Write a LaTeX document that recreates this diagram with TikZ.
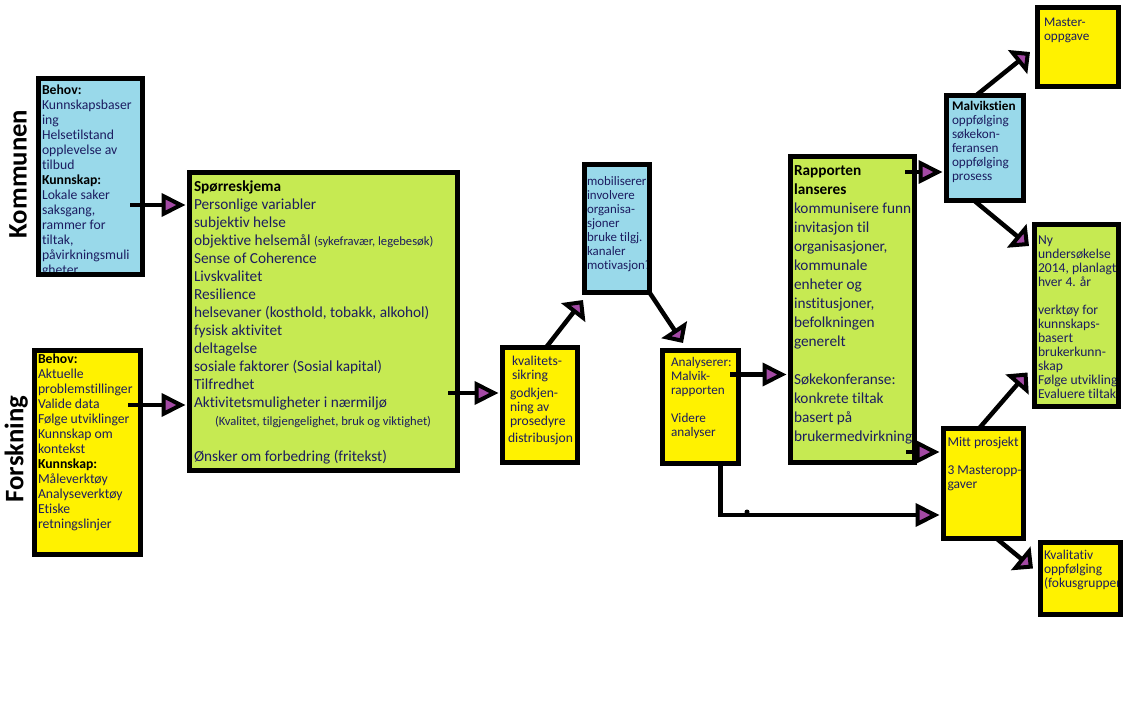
\documentclass[tikz,border=0pt]{standalone}
\usepackage{fontspec}
\setmainfont{Carlito}[Ligatures={NoCommon}]
\usetikzlibrary{arrows.meta}
\definecolor{kblue}{RGB}{153,217,234}
\definecolor{yel}{RGB}{255,242,0}
\definecolor{grn}{RGB}{198,234,82}
\definecolor{purp}{RGB}{163,73,164}
\definecolor{txtcol}{RGB}{28,28,96}
\newcommand{\bt}[1]{{\bfseries\color{black}#1}}
\newcommand{\tx}[3]{\parbox[t]{300pt}{\raggedright\fontsize{#1}{#2}\selectfont\leavevmode #3}}
\begin{document}
\begin{tikzpicture}[x=1pt,y=-1pt,
  bx/.style={draw=black, line width=5pt, rectangle, inner sep=0pt, outer sep=0pt},
  txt/.style={anchor=base west, inner sep=0pt, outer sep=0pt, text=txtcol},
  lbl/.style={inner sep=0pt, font=\fontsize{26.7pt}{30pt}\selectfont\bfseries, text=black},
  harr/.style={draw=black, line width=4.5pt, -{Triangle[length=24pt,width=23pt,line width=4pt,fill=purp]}, shorten >=4pt},
  darr/.style={draw=black, line width=4.5pt, -{Triangle[length=16pt,width=30pt,line width=4pt,fill=purp]}}]
\useasboundingbox[fill=white] (0,0) rectangle (1126,707);

% side labels
\node[lbl, rotate=90, anchor=base] (kom) at (26.5,174) {Kommunen};
\node[lbl, rotate=90, anchor=base] (fors) at (23.3,449) {Forskning};

% Kommunen box
\node[bx, fill=kblue, minimum width=104pt, minimum height=196pt,
  path picture={\node[txt] (Kt) at ([shift={(3.5,15.5)}]path picture bounding box.north west)
  {\tx{13.7pt}{15pt}{\bt{Behov:}\\ Kunnskapsbaser\\ ing\\ Helsetilstand\\ opplevelse av\\ tilbud\\ \bt{Kunnskap:}\\ Lokale saker\\ saksgang,\\ rammer for\\ tiltak,\\ påvirkningsmuli\\ gheter}};}] (K) at (90.5,176.5) {};

% Forskning box
\node[bx, fill=yel, minimum width=106pt, minimum height=204pt,
  path picture={\node[txt] (Ft) at ([shift={(3.5,13)}]path picture bounding box.north west)
  {\tx{13.7pt}{15pt}{\bt{Behov:}\\ Aktuelle\\ problemstillinger\\ Valide data\\ Følge utviklinger\\ Kunnskap om\\ kontekst\\ \bt{Kunnskap:}\\ Måleverktøy\\ Analyseverktøy\\ Etiske\\ retningslinjer}};}] (F) at (87.5,452.5) {};

% Spørreskjema box
\node[bx, fill=grn, minimum width=268pt, minimum height=298pt,
  path picture={\node[txt] (Gt) at ([shift={(4.5,18.5)}]path picture bounding box.north west)
  {\tx{15.3pt}{18pt}{\bt{Spørreskjema}\\ Personlige variabler\\ subjektiv helse\\ objektive helsemål {\fontsize{12.6pt}{18pt}\selectfont (sykefravær, legebesøk)}\\ Sense of Coherence\\ Livskvalitet\\ Resilience\\ helsevaner (kosthold, tobakk, alkohol)\\ fysisk aktivitet\\ deltagelse\\ sosiale faktorer (Sosial kapital)\\ Tilfredhet\\ Aktivitetsmuligheter i nærmiljø\\ \hspace*{21pt}{\fontsize{12.6pt}{18pt}\selectfont (Kvalitet, tilgjengelighet, bruk og viktighet)}\\ ~\\ Ønsker om forbedring (fritekst)}};}] (G) at (323.5,321.5) {};

% kvalitetssikring box
\node[bx, fill=yel, minimum width=75pt, minimum height=115pt,
  path picture={\node[txt] (Qt) at ([shift={(5.5,18)}]path picture bounding box.north west)
  {\tx{13.6pt}{14pt}{\hspace*{4pt}kvalitets-\\ \hspace*{4pt}sikring\\[4pt] \hspace*{2pt}godkjen-\\ \hspace*{2pt}ning av\\ \hspace*{2pt}prosedyre\\[3pt] distribusjon}};}] (Q) at (540,405) {};

% mobiliserer box
\node[bx, fill=kblue, minimum width=65pt, minimum height=128pt,
  path picture={\node[txt] (Mt) at ([shift={(2.5,21)}]path picture bounding box.north west)
  {\tx{12.9pt}{14pt}{mobiliserer\\ involvere\\ organisa-\\ sjoner\\ bruke tilgj.\\ kanaler\\ motivasjon?}};}] (M) at (617,228.5) {};

% Analyserer box
\node[bx, fill=yel, minimum width=76pt, minimum height=113pt,
  path picture={\node[txt] (At) at ([shift={(8.5,16)}]path picture bounding box.north west)
  {\tx{13.2pt}{14pt}{Analyserer:\\ Malvik-\\ rapporten\\ ~\\ Videre\\ analyser}};}] (A) at (700.5,407) {};

% Rapporten box
\node[bx, fill=grn, minimum width=124pt, minimum height=306pt,
  path picture={\node[txt] (Rt) at ([shift={(3.5,18.5)}]path picture bounding box.north west)
  {\tx{15.3pt}{19pt}{\bt{Rapporten}\\ \bt{lanseres}\\ kommunisere funn\\ invitasjon til\\ organisasjoner,\\ kommunale\\ enheter og\\ institusjoner,\\ befolkningen\\ generelt\\ ~\\ Søkekonferanse:\\ konkrete tiltak\\ basert på\\ brukermedvirkning}};}] (R) at (852.5,309.5) {};

% Malvikstien box
\node[bx, fill=kblue, minimum width=77pt, minimum height=105pt,
  path picture={\node[txt] (MSt) at ([shift={(5.5,14.5)}]path picture bounding box.north west)
  {\tx{13.2pt}{14pt}{\bt{Malvikstien}\\ oppfølging\\ søkekon-\\ feransen\\ oppfølging\\ prosess}};}] (MS) at (985,148) {};

% Masteroppgave box
\node[bx, fill=yel, minimum width=81pt, minimum height=79pt,
  path picture={\node[txt] (MOt) at ([shift={(6.5,19)}]path picture bounding box.north west)
  {\tx{13.2pt}{14pt}{Master-\\ oppgave}};}] (MO) at (1078,47) {};

% Ny undersøkelse box
\node[bx, fill=grn, minimum width=84pt, minimum height=182pt,
  path picture={\node[txt] (NYt) at ([shift={(3.5,20)}]path picture bounding box.north west)
  {\tx{13.6pt}{14pt}{Ny\\ undersøkelse\\ 2014, planlagt\\ hver 4. år\\ ~\\ verktøy for\\ kunnskaps-\\ basert\\ brukerkunn-\\ skap\\ Følge utvikling\\ Evaluere tiltak}};}] (NY) at (1076.5,315.5) {};

% Mitt prosjekt box
\node[bx, fill=yel, minimum width=80pt, minimum height=110pt,
  path picture={\node[txt] (MPt) at ([shift={(4,18)}]path picture bounding box.north west)
  {\tx{13.5pt}{14pt}{Mitt prosjekt\\ ~\\ 3 Masteropp-\\ gaver}};}] (MP) at (983.5,483.5) {};

% Kvalitativ box
\node[bx, fill=yel, minimum width=80pt, minimum height=72pt,
  path picture={\node[txt] (KVt) at ([shift={(3.5,17)}]path picture bounding box.north west)
  {\tx{13.5pt}{14pt}{Kvalitativ\\ oppfølging\\ (fokusgrupper}};}] (KV) at (1080.5,578.5) {};

% connectors
\coordinate (k1) at ([shift={(-12.5,28.5)}]K.east);
\draw[harr] (k1) -- (k1 -| G.west);
\coordinate (f1) at ([shift={(-12.5,-47.5)}]F.east);
\draw[harr] (f1) -- (f1 -| G.west);
\coordinate (g1) at ([shift={(-9.5,71.5)}]G.east);
\draw[harr] (g1) -- (g1 -| Q.west);
\draw[darr] ([xshift=6pt]Q.north) -- ([shift={(-1.5,7.5)}]M.south west);
\draw[darr] (M.south east) -- ([shift={(20.5,-7.5)}]A.north west);
\coordinate (a1) at ([shift={(-8.5,-32.5)}]A.east);
\draw[harr] (a1) -- (a1 -| R.west);
\coordinate (r1) at ([shift={(-9.5,-137.5)}]R.east);
\draw[harr] (r1) -- (r1 -| MS.west);
\coordinate (r2) at ([shift={(-8.5,142.5)}]R.east);
\draw[harr] (r2) -- (r2 -| MP.west);
\draw[harr] ([xshift=20pt]A.south) |- ([shift={(0,31.5)}]MP.west);
\fill[black] (747,512) circle (2.5pt);
\draw[darr] ([xshift=-9pt]MS.north) -- ([shift={(-7.5,-34.5)}]MO.south west);
\draw[darr] ([xshift=-11pt]MS.south) -- ([shift={(-5.5,21.5)}]NY.north west);
\draw[darr] ([xshift=-4.5pt]MP.north) -- ([shift={(-7,-34)}]NY.south west);
\draw[darr] ([xshift=13pt]MP.south) -- ([shift={(-7.5,-10)}]KV.west);
\end{tikzpicture}
\end{document}
